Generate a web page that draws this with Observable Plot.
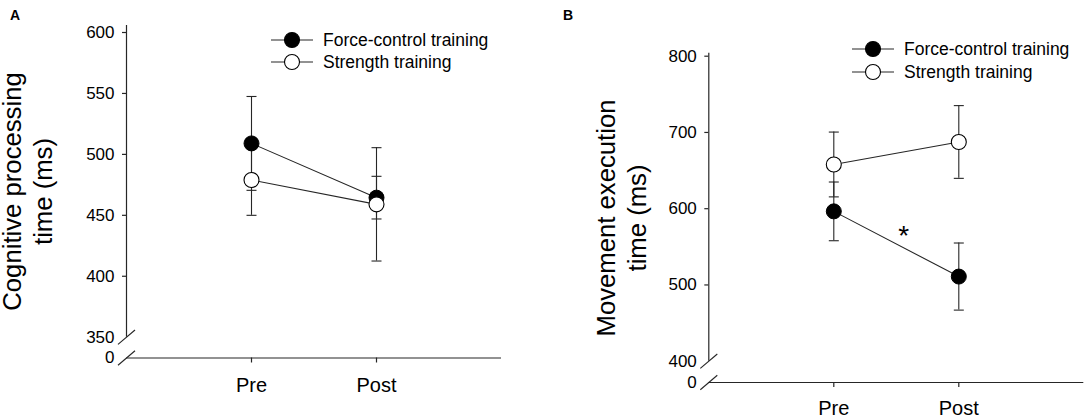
<!DOCTYPE html>
<html><head><meta charset="utf-8">
<script src="https://cdn.jsdelivr.net/npm/d3@7"></script>
<script src="https://cdn.jsdelivr.net/npm/@observablehq/plot@0.6"></script>
<style>
body{margin:0;background:#fff;font-family:"Liberation Sans",Arial,Helvetica,sans-serif;color:#000;}
#wrap{position:relative;width:1084px;height:417px;overflow:hidden;background:#fff;}
.panel{position:absolute;top:0;}
.panel svg{overflow:visible;}
.panel svg g[aria-label="y-axis tick label"], .panel svg g[aria-label="y-axis tick label"] text{font-size:17px !important;}
.panel svg g[aria-label="x-axis tick label"], .panel svg g[aria-label="x-axis tick label"] text{font-size:20px !important;}
.plabel{position:absolute;font-weight:bold;font-size:14px;line-height:14px;}
.lg{position:absolute;display:flex;align-items:center;height:22px;font-size:17.5px;line-height:22px;white-space:nowrap;}
.lg span{margin-left:10px;}
</style></head><body>
<div id="wrap"></div>
<script>
// ---------- data ----------
const periods = ["Pre", "Post"];
const seriesNames = ["Force-control training", "Strength training"];

// Panel A: cognitive processing time (ms)
const aTitle = ["Cognitive processing", "time (ms)"];
const aTicks = [0, 350, 400, 450, 500, 550, 600];
const aForceMean = [509, 464.5];
const aForceErr = [38.5, 17.5];
const aStrengthMean = [479, 459];
const aStrengthErr = [29, 46.5];

// Panel B: movement execution time (ms)
const bTitle = ["Movement execution", "time (ms)"];
const bTicks = [0, 400, 500, 600, 700, 800];
const bForceMean = [596.5, 511];
const bForceErr = [38.5, 44];
const bStrengthMean = [658, 687.5];
const bStrengthErr = [42.5, 47.7];
const bSigX = [1.56];
const bSigY = [573];
const bSigText = ["*"];

// ---------- drawing ----------
const FONT = '"Liberation Sans", Arial, Helvetica, sans-serif';
const INK = "#262626";

function rowsFor(series, means, errs) {
  return periods.map((p, i) => ({series, x: i + 1, mean: means[i], lo: means[i] - errs[i], hi: means[i] + errs[i]}));
}
const capSymbol = {draw(ctx, size) {const r = Math.sqrt(size / Math.PI); ctx.moveTo(-r, 0); ctx.lineTo(r, 0);}};
const breakSymbol = {draw(ctx, size) {const r = Math.sqrt(size / Math.PI); ctx.moveTo(-r, r * 0.85); ctx.lineTo(r, -r * 0.85);}};

function panel(cfg) {
  const force = rowsFor(seriesNames[0], cfg.forceMean, cfg.forceErr);
  const strength = rowsFor(seriesNames[1], cfg.strengthMean, cfg.strengthErr);
  const all = force.concat(strength);
  const ticks = cfg.ticks;
  const yTop = ticks[ticks.length - 1];
  const breakVal = ticks[1];
  const marks = [
    Plot.ruleX([{x: 0, y1: breakVal, y2: yTop}], {x: "x", y1: "y1", y2: "y2", stroke: INK, strokeWidth: 1.2, insetBottom: cfg.gap}),
    Plot.ruleY([0], {y: d => d, x1: () => 0, x2: () => 3, stroke: INK, strokeWidth: 1.2}),
    Plot.dot([breakVal, 0], {x: () => 0, y: d => d, symbol: breakSymbol, r: 8.5, stroke: INK, fill: "none", strokeWidth: 1.1}),
    Plot.axisY({ticks: ticks.slice(2), tickSize: 4, tickPadding: 8, fontSize: 17, stroke: INK, strokeWidth: 1.2, label: null, fill: "#000"}),
    Plot.axisY({ticks: ticks.slice(0, 2), tickSize: 0, tickPadding: 12, fontSize: 17, label: null, fill: "#000"}),
    Plot.axisX({ticks: [1, 2], tickSize: 5, tickPadding: cfg.xPad, fontSize: 20, tickFormat: i => periods[i - 1], stroke: INK, strokeWidth: 1.2, label: null, fill: "#000"}),
    Plot.text([cfg.title[0]], {text: d => d, frameAnchor: "left", rotate: -90, fontSize: 25.7, textAnchor: "middle", lineAnchor: "middle", dx: cfg.titleDx[0], dy: cfg.titleDy, fill: "#000"}),
    Plot.text([cfg.title[1]], {text: d => d, frameAnchor: "left", rotate: -90, fontSize: 25.7, textAnchor: "middle", lineAnchor: "middle", dx: cfg.titleDx[1], dy: cfg.titleDy, fill: "#000"}),
    Plot.line(force, {x: "x", y: "mean", stroke: INK, strokeWidth: 1.1}),
    Plot.line(strength, {x: "x", y: "mean", stroke: INK, strokeWidth: 1.1}),
    Plot.ruleX(all, {x: "x", y1: "lo", y2: "hi", stroke: INK, strokeWidth: 1.1}),
    Plot.dot(all, {x: "x", y: "lo", symbol: capSymbol, r: 5, stroke: INK, fill: "none", strokeWidth: 1.1}),
    Plot.dot(all, {x: "x", y: "hi", symbol: capSymbol, r: 5, stroke: INK, fill: "none", strokeWidth: 1.1}),
    Plot.dot(force, {x: "x", y: "mean", r: 7.5, fill: "#000", stroke: "#000", strokeWidth: 1}),
    Plot.dot(strength, {x: "x", y: "mean", r: 7.5, fill: "#fff", stroke: "#000", strokeWidth: 1.1})
  ];
  if (cfg.sig) {
    const sig = cfg.sig.x.map((x, i) => ({x, y: cfg.sig.y[i], label: cfg.sig.text[i]}));
    marks.push(Plot.text(sig, {x: "x", y: "y", text: "label", fontSize: 28, dy: 7, fill: "#000"}));
  }
  return Plot.plot({
    width: cfg.width, height: 417,
    marginLeft: cfg.marginLeft, marginRight: cfg.marginRight,
    marginTop: cfg.marginTop, marginBottom: cfg.marginBottom,
    style: {fontFamily: FONT, color: "#000", background: "transparent", overflow: "visible"},
    x: {type: "linear", domain: [0, 3]},
    y: {type: "linear", domain: [0, ticks[1], yTop], range: cfg.yRange},
    marks
  });
}

const wrap = document.getElementById("wrap");

function addPanel(left, svg) {
  const d = document.createElement("div");
  d.className = "panel";
  d.style.left = left + "px";
  d.appendChild(svg);
  wrap.appendChild(d);
}

addPanel(0, panel({
  width: 540, marginLeft: 126, marginRight: 39, marginTop: 32, marginBottom: 59.5,
  yRange: [357.5, 336.7, 32], ticks: aTicks, gap: 7, xPad: 15,
  forceMean: aForceMean, forceErr: aForceErr, strengthMean: aStrengthMean, strengthErr: aStrengthErr,
  title: aTitle, titleDx: [-113.7, -83.2], titleDy: -3.75
}));

addPanel(540, panel({
  width: 544, marginLeft: 168.3, marginRight: 0.7, marginTop: 55.7, marginBottom: 35,
  yRange: [382, 360.7, 55.7], ticks: bTicks, gap: 3, xPad: 13.5,
  forceMean: bForceMean, forceErr: bForceErr, strengthMean: bStrengthMean, strengthErr: bStrengthErr,
  title: bTitle, titleDx: [-102.5, -71.5], titleDy: -1.35,
  sig: {x: bSigX, y: bSigY, text: bSigText}
}));

// panel letters
[["A", 10], ["B", 563]].forEach(([t, x]) => {
  const d = document.createElement("div");
  d.className = "plabel";
  d.style.left = x + "px";
  d.style.top = "8px";
  d.textContent = t;
  wrap.appendChild(d);
});

// legends
function legend(left, tops) {
  seriesNames.forEach((name, i) => {
    const d = document.createElement("div");
    d.className = "lg";
    d.style.left = left + "px";
    d.style.top = (tops[i] - 11) + "px";
    const fill = i === 0 ? "#000" : "#fff";
    d.innerHTML = `<svg width="42" height="22" style="overflow:visible"><line x1="0" x2="42" y1="11" y2="11" stroke="${INK}" stroke-width="1.1"/><circle cx="21" cy="11" r="7.5" fill="${fill}" stroke="#000" stroke-width="1.1"/></svg><span>${name}</span>`;
    wrap.appendChild(d);
  });
}
legend(271, [40, 61.7]);
legend(852, [49.3, 71.7]);
</script>
</body></html>
